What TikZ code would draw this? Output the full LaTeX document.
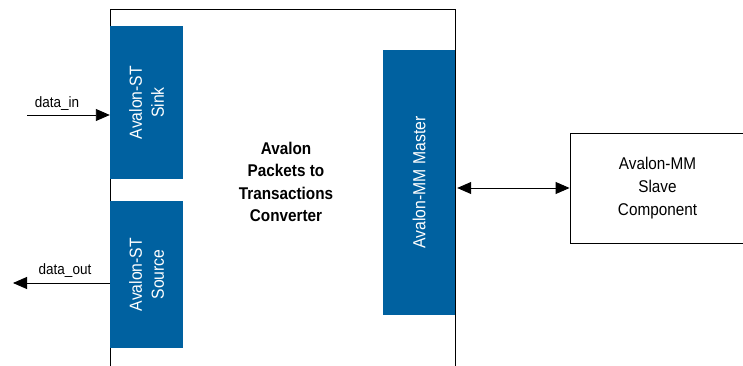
\documentclass[tikz,border=0pt]{standalone}
\usepackage{fontspec}
\setmainfont{Liberation Sans}[FakeStretch=0.9]
\usetikzlibrary{arrows.meta,positioning}
\definecolor{avblue}{RGB}{0,97,160}

\begin{document}
\begin{tikzpicture}[x=1pt, y=-1pt,
    bloc/.style={fill=avblue, draw=none, inner sep=0pt, text=white, align=center,
      rotate=90, font=\fontsize{17.5}{22}\selectfont},
    lbl/.style={inner sep=1pt, font=\fontsize{15}{18}\selectfont},
    fleche/.style={-{Triangle[length=14pt,width=12pt]}, line width=0.9pt}]
    \useasboundingbox (0,0) rectangle (743,366);

    % Convertisseur (boite ouverte en bas)
    \draw[line width=0.9pt] (110,367) -- (110,9) -- (455,9) -- (455,367);
    \node[align=center, font=\bfseries\fontsize{17}{22.5}\selectfont] (conv) at (286,182)
      {Avalon\\Packets to\\Transactions\\Converter};

    % Interfaces
    \node[bloc, minimum width=153pt, minimum height=73pt] (sink) at (146.5,102.5) {Avalon-ST\\Sink};
    \node[bloc, minimum width=147pt, minimum height=73pt] (source) at (146.5,274.5) {Avalon-ST\\Source};
    \node[bloc, minimum width=265pt, minimum height=72pt] (master) at (419,182.5) {Avalon-MM Master};

    % Esclave
    \node[draw, line width=0.9pt, minimum width=175pt, minimum height=110pt, align=center,
      font=\fontsize{17}{23}\selectfont] (slave) at (657.5,188) {Avalon-MM\\Slave\\Component};

    % Signaux
    \coordinate (in) at (27,115);
    \coordinate (out) at (13,283);
    \draw[fleche] (in) -- (in -| sink.north);
    \node[lbl] (datain) at (57,104) {data\_in};
    \draw[fleche] (out -| source.north) -- (out);
    \node[lbl] (dataout) at (65,271) {data\_out};
    \draw[fleche, {Triangle[length=14pt,width=12pt]}-{Triangle[length=14pt,width=12pt]}]
      ([xshift=2pt]slave.west -| master.south) -- (slave.west);
\end{tikzpicture}
\end{document}
